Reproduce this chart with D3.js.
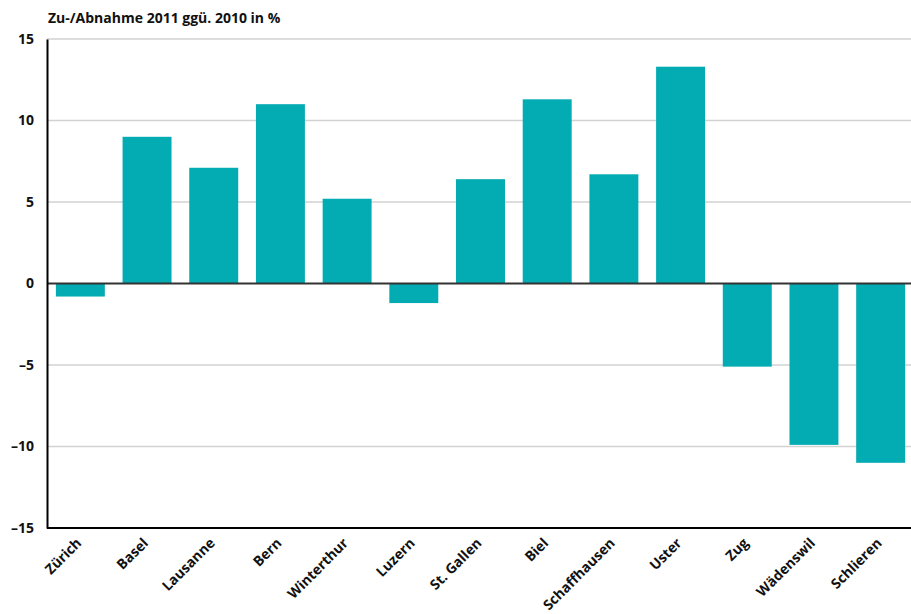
<!DOCTYPE html>
<html><head><meta charset="utf-8">
<script src="https://cdn.jsdelivr.net/npm/d3@7"></script>
<style>
body{margin:0;background:#fff;}
text{font-family:"Open Sans",sans-serif;font-weight:700;fill:#111;}
</style></head>
<body><svg id="c" width="911" height="614"></svg>
<script>
const categories = ["Zürich","Basel","Lausanne","Bern","Winterthur","Luzern","St. Gallen","Biel","Schaffhausen","Uster","Zug","Wädenswil","Schlieren"];
const values = [-0.8, 9.0, 7.1, 11.0, 5.2, -1.2, 6.4, 11.3, 6.7, 13.3, -5.1, -9.9, -11.0];
const yTicks = [-15, -10, -5, 0, 5, 10, 15];
const title = "Zu-/Abnahme 2011 ggü. 2010 in %";

(function(){
const svg = d3.select("#c");
const mLeft = 47, mRight = 914, mTop = 39, mBottom = 528;
const x = d3.scaleBand().domain(categories).range([mLeft, mRight]).paddingInner(0.266).paddingOuter(0.133);
const y = d3.scaleLinear().domain([-15, 15]).range([mBottom, mTop]);
const fmt = d => (d < 0 ? "\u2013" + Math.abs(d) : String(d));

// gridlines
svg.append("g").selectAll("line").data(yTicks.filter(d => d !== 0 && d !== -15))
  .join("line").attr("x1", mLeft).attr("x2", 911)
  .attr("y1", d => y(d)).attr("y2", d => y(d))
  .attr("stroke", "#d2d2d2").attr("stroke-width", 1.6);

// bars
svg.append("g").selectAll("rect").data(values)
  .join("rect")
  .attr("x", (d, i) => x(categories[i]))
  .attr("width", x.bandwidth())
  .attr("y", d => y(Math.max(0, d)))
  .attr("height", d => Math.abs(y(d) - y(0)))
  .attr("fill", "#03abb2");

// zero line
svg.append("line").attr("x1", mLeft).attr("x2", 911).attr("y1", y(0)).attr("y2", y(0))
  .attr("stroke", "#333").attr("stroke-width", 1.8);

// y axis
const ya = svg.append("g").attr("transform", `translate(${mLeft},0)`)
  .call(d3.axisLeft(y).tickValues(yTicks).tickFormat(fmt).tickSize(0).tickPadding(13));
ya.select(".domain").attr("stroke", "#000").attr("stroke-width", 2);
ya.selectAll("text").style("font-size", "14px").style("font-family", "'Open Sans',sans-serif").style("font-weight", 700).attr("fill", "#111");

// x axis
const xa = svg.append("g").attr("transform", `translate(0,${mBottom})`)
  .call(d3.axisBottom(x).tickSize(0).tickPadding(0));
xa.select(".domain").attr("d", `M${mLeft},0H911`).attr("stroke", "#000").attr("stroke-width", 2);
xa.selectAll("text")
  .style("font-size", "14px").style("font-family", "'Open Sans',sans-serif").style("font-weight", 700).attr("fill", "#111")
  .attr("text-anchor", "end")
  .attr("dy", "0")
  .attr("transform", "translate(2,16) rotate(-45)");

// title
svg.append("text").attr("x", 48).attr("y", 23).text(title).style("font-size", "14px");
})();
</script></body></html>
